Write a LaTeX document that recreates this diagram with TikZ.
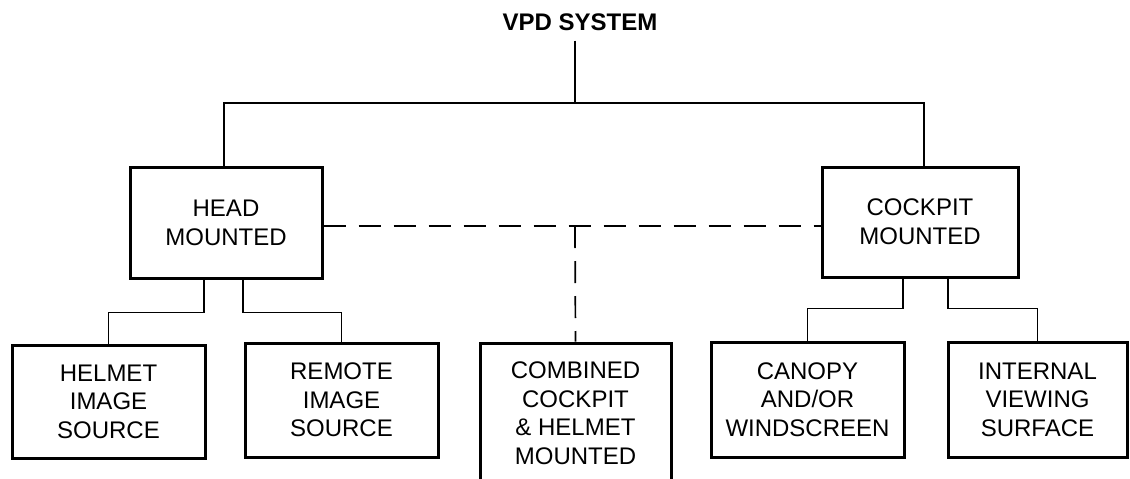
\documentclass[tikz,border=0pt]{standalone}
\usepackage{fontspec}
\setmainfont{Liberation Sans}
\begin{document}
\begin{tikzpicture}[x=1pt,y=-1pt,
  box/.style={draw, line width=3pt, align=center, inner sep=0pt,
    font=\fontsize{24}{28.5}\selectfont},
  conn/.style={line width=1.7pt},
  dashconn/.style={line width=1.7pt, dash pattern=on 22pt off 13pt}]
\useasboundingbox (0,0) rectangle (1130,479);
\clip (0,0) rectangle (1130,479);
\fill[white] (0,0) rectangle (1130,479);

\node[font=\fontsize{24}{28}\selectfont\bfseries, inner sep=0pt] (vpd) at (580,22) {VPD SYSTEM};

\node[box, minimum width=192pt, minimum height=111pt] (head) at (226,222.5) {HEAD\\[0.5pt]MOUNTED};
\node[box, minimum width=196pt, minimum height=110pt] (cockpit) at (920,222) {COCKPIT\\[0.5pt]MOUNTED};

\node[box, minimum width=193pt, minimum height=113pt] (helmet) at (108.5,401.5) {HELMET\\IMAGE\\SOURCE};
\node[box, minimum width=193pt, minimum height=114pt] (remote) at (341.5,400) {REMOTE\\IMAGE\\SOURCE};
\node[box, minimum width=191pt, minimum height=140pt] (comb) at (575.5,413) {COMBINED\\COCKPIT\\\& HELMET\\MOUNTED};
\node[box, minimum width=193pt, minimum height=115pt] (canopy) at (807.5,399.5) {CANOPY\\AND/OR\\WINDSCREEN};
\node[box, minimum width=179pt, minimum height=115pt] (internal) at (1037.5,399.5) {INTERNAL\\VIEWING\\SURFACE};

\coordinate (t) at (575,103);
\coordinate (j) at (575,226);

\draw[conn] ([yshift=-10pt]vpd.south -| t) -- (t);
\draw[conn] ([xshift=-2pt]head.north) |- (t) -| ([xshift=4pt]cockpit.north);

\draw[conn] ([xshift=-22pt]head.south) -- ++(0,33) -| (helmet.north);
\draw[conn] ([xshift=17pt]head.south) -- ++(0,33) -| (remote.north);
\draw[conn] ([xshift=-17pt]cockpit.south) -- ++(0,30) -| (canopy.north);
\draw[conn] ([xshift=28pt]cockpit.south) -- ++(0,30) -| (internal.north);

\draw[dashconn] (head.east |- j) -- (cockpit.west |- j);
\draw[dashconn] (j) -- (comb.north);
\end{tikzpicture}
\end{document}
